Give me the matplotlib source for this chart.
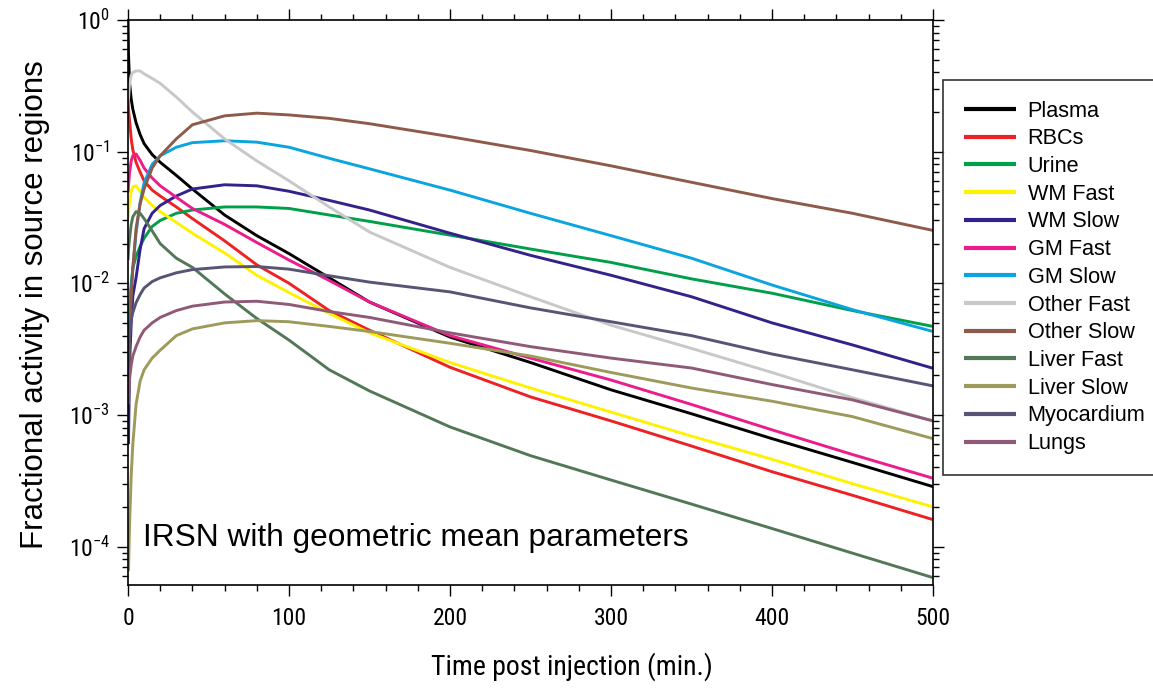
import numpy as np
import matplotlib
matplotlib.use("Agg")
import matplotlib.pyplot as plt
from matplotlib import font_manager
from matplotlib.font_manager import FontProperties
from matplotlib.ticker import MultipleLocator, LogLocator, NullFormatter

ttf = font_manager.fontManager.ttflist
names = {f.name for f in ttf}
REG = 'Liberation Sans' if 'Liberation Sans' in names else 'DejaVu Sans'

narrow_file = None
for pref in ['Liberation Sans Narrow', 'Arial Narrow', 'Roboto Condensed', 'Open Sans Condensed']:
    cands = [f for f in ttf if f.name == pref and f.weight in (400, 'normal', 'regular')
             and f.style == 'normal']
    if cands:
        narrow_file = cands[0].fname
        break
if narrow_file is None:
    cands = [f for f in ttf if f.stretch in ('condensed', 'semi-condensed')
             and f.style == 'normal' and f.weight in (400, 'normal', 'regular')
             and 'Serif' not in f.name and 'Mono' not in f.name]
    if cands:
        narrow_file = cands[0].fname


def nfont(size):
    if narrow_file:
        return FontProperties(fname=narrow_file, size=size)
    return FontProperties(family=REG, size=size * 0.88)


plt.rcParams['font.family'] = [REG, 'DejaVu Sans']
plt.rcParams['mathtext.default'] = 'regular'

nan = np.nan
# time (min)
t = [0, 0.3, 1, 2, 3, 5, 7.5, 10, 15, 20, 30, 40, 60, 80, 100, 125, 150, 200, 250, 300, 350, 400, 450, 500]

plasma = [1.0, 0.55, 0.33, 0.25, 0.21, 0.166, 0.135, 0.115, 0.095, 0.083, 0.066, 0.052, 0.033, 0.023, 0.0168,
          0.011, 0.0072, 0.0039, 0.0025, 0.00155, 0.00102, 0.00066, 0.000435, 0.000285]
rbcs = [0.25, 0.21, 0.17, 0.125, 0.103, 0.083, 0.07, 0.06, 0.051, 0.046, 0.038, 0.031, 0.021, 0.0138, 0.010,
        0.0062, 0.0044, 0.0023, 0.00137, 0.0009, 0.00058, 0.00037, 0.000245, 0.00016]
urine = [nan, 0.003, 0.0068, 0.010, 0.013, 0.016, 0.019, 0.022, 0.027, 0.030, 0.034, 0.036, 0.038, 0.038, 0.037,
         0.033, 0.0295, 0.0232, 0.0182, 0.0144, 0.0108, 0.0084, 0.0062, 0.0047]
wm_fast = [0.031, 0.035, 0.042, 0.050, 0.054, 0.055, 0.050, 0.045, 0.039, 0.035, 0.029, 0.024, 0.017, 0.0115, 0.0085,
           0.0059, 0.0042, 0.0025, 0.0016, 0.00105, 0.00069, 0.00046, 0.0003, 0.0002]
wm_slow = [nan, 0.0006, 0.0025, 0.005, 0.008, 0.011, 0.018, 0.026, 0.034, 0.039, 0.046, 0.052, 0.056, 0.055, 0.050,
           0.0426, 0.036, 0.024, 0.0163, 0.0115, 0.0079, 0.005, 0.0034, 0.00226]
gm_fast = [0.049, 0.055, 0.070, 0.085, 0.093, 0.096, 0.086, 0.075, 0.063, 0.055, 0.045, 0.037, 0.028, 0.0204, 0.015,
           0.0105, 0.0072, 0.0040, 0.0027, 0.00184, 0.0012, 0.00077, 0.0005, 0.00033]
gm_slow = [nan, 0.0025, 0.005, 0.009, 0.013, 0.024, 0.041, 0.058, 0.080, 0.093, 0.108, 0.117, 0.121, 0.118, 0.108,
           0.089, 0.074, 0.051, 0.034, 0.023, 0.0155, 0.0097, 0.0063, 0.0043]
other_fast = [nan, 0.25, 0.33, 0.38, 0.40, 0.41, 0.41, 0.39, 0.36, 0.33, 0.26, 0.20, 0.125, 0.085, 0.06,
              0.038, 0.0245, 0.0132, 0.0079, 0.0048, 0.0032, 0.0021, 0.00135, 0.0009]
other_slow = [nan, 0.0012, 0.004, 0.008, 0.013, 0.026, 0.040, 0.052, 0.075, 0.093, 0.125, 0.160, 0.187, 0.196, 0.19,
              0.179, 0.163, 0.13, 0.102, 0.078, 0.0585, 0.044, 0.034, 0.0252]
liver_fast = [0.015, 0.018, 0.022, 0.028, 0.032, 0.035, 0.034, 0.031, 0.025, 0.020, 0.0155, 0.0132, 0.0083, 0.0054,
              0.0037, 0.0022, 0.00152, 0.00081, 0.00049, 0.00032, 0.00021, 0.000137, 0.000089, 0.000058]
liver_slow = [nan, 0.000065, 0.00015, 0.00035, 0.0006, 0.0012, 0.0018, 0.0022, 0.0027, 0.0031, 0.0040, 0.0045, 0.005,
              0.0052, 0.0051, 0.0047, 0.0043, 0.0035, 0.0028, 0.0021, 0.0016, 0.00127, 0.00097, 0.00066]
myocardium = [nan, 0.0018, 0.0042, 0.0053, 0.006, 0.0071, 0.0082, 0.0092, 0.0103, 0.011, 0.012, 0.0127, 0.0133,
              0.0134, 0.0128, 0.0114, 0.0102, 0.0086, 0.0065, 0.0051, 0.0040, 0.0029, 0.0022, 0.00166]
lungs = [nan, 0.0014, 0.0019, 0.0024, 0.0028, 0.0033, 0.0039, 0.0044, 0.005, 0.0055, 0.0062, 0.0067, 0.0072, 0.0073,
         0.0069, 0.0061, 0.0055, 0.0042, 0.0033, 0.0027, 0.00227, 0.0017, 0.0013, 0.0009]

labels = ["Plasma", "RBCs", "Urine", "WM Fast", "WM Slow", "GM Fast", "GM Slow", "Other Fast",
          "Other Slow", "Liver Fast", "Liver Slow", "Myocardium", "Lungs"]
series = [plasma, rbcs, urine, wm_fast, wm_slow, gm_fast, gm_slow, other_fast,
          other_slow, liver_fast, liver_slow, myocardium, lungs]
colors = ["#000000", "#ED2224", "#00A04B", "#FFF200", "#33228A", "#EC1C8C", "#0AA5E0", "#C8C8C8",
          "#8E5A4A", "#527858", "#9E9A5C", "#585475", "#8F5A78"]

x_ticks = [0, 100, 200, 300, 400, 500]
y_ticks = [1e-4, 1e-3, 1e-2, 1e-1, 1]
y_tick_labels = ["10$^{-4}$", "10$^{-3}$", "10$^{-2}$", "10$^{-1}$", "10$^{0}$"]

W, H = 1153, 689
fig = plt.figure(figsize=(W / 100, H / 100), dpi=100)
ax = fig.add_axes([128 / W, 1 - 585 / H, 805 / W, 565 / H])

handles = []
for lab, ys, c in zip(labels, series, colors):
    h, = ax.plot(t, ys, color=c, lw=2.1, label=lab, solid_capstyle='butt')
    handles.append(h)

ax.set_yscale('log')
ax.set_xlim(0, 500)
ax.set_ylim(5.1e-5, 1.0)
ax.set_xticks(x_ticks)
ax.set_xticklabels([str(v) for v in x_ticks], fontproperties=nfont(17))
ax.xaxis.set_minor_locator(MultipleLocator(20))
ax.set_yticks(y_ticks)
ax.set_yticklabels(y_tick_labels, fontproperties=nfont(17))
ax.yaxis.set_minor_locator(LogLocator(base=10, subs=np.arange(2, 10), numticks=20))
ax.yaxis.set_minor_formatter(NullFormatter())
ax.tick_params(which='both', direction='out', top=True, right=True, width=1.0, color='black')
ax.tick_params(which='major', length=8)
ax.tick_params(which='minor', length=4.5)
ax.tick_params(axis='x', pad=8)
ax.tick_params(axis='y', pad=5)
for s in ax.spines.values():
    s.set_linewidth(1.2)

fig.text(35 / W, 1 - 305 / H, "Fractional activity in source regions", rotation=90,
         ha='center', va='center', fontsize=22.5, fontfamily=REG)
fig.text(572 / W, 1 - 667 / H, "Time post injection (min.)", ha='center', va='center',
         fontproperties=nfont(20))
ax.text(15 / 805, (585 - 538) / 565, "IRSN with geometric mean parameters", transform=ax.transAxes,
        ha='left', va='center', fontsize=22.8, fontfamily=REG)

leg = fig.legend(handles=handles, loc='upper left', bbox_to_anchor=(943 / W, 1 - 80 / H),
                 borderaxespad=0, frameon=True, fancybox=False, edgecolor='black',
                 prop={'family': REG, 'size': 15.6}, handlelength=2.4, handletextpad=0.55,
                 labelspacing=0.31, borderpad=0.95)
leg.get_frame().set_linewidth(1.2)
for lh in leg.get_lines():
    lh.set_linewidth(3)

fig.savefig("out.png", dpi=100)
